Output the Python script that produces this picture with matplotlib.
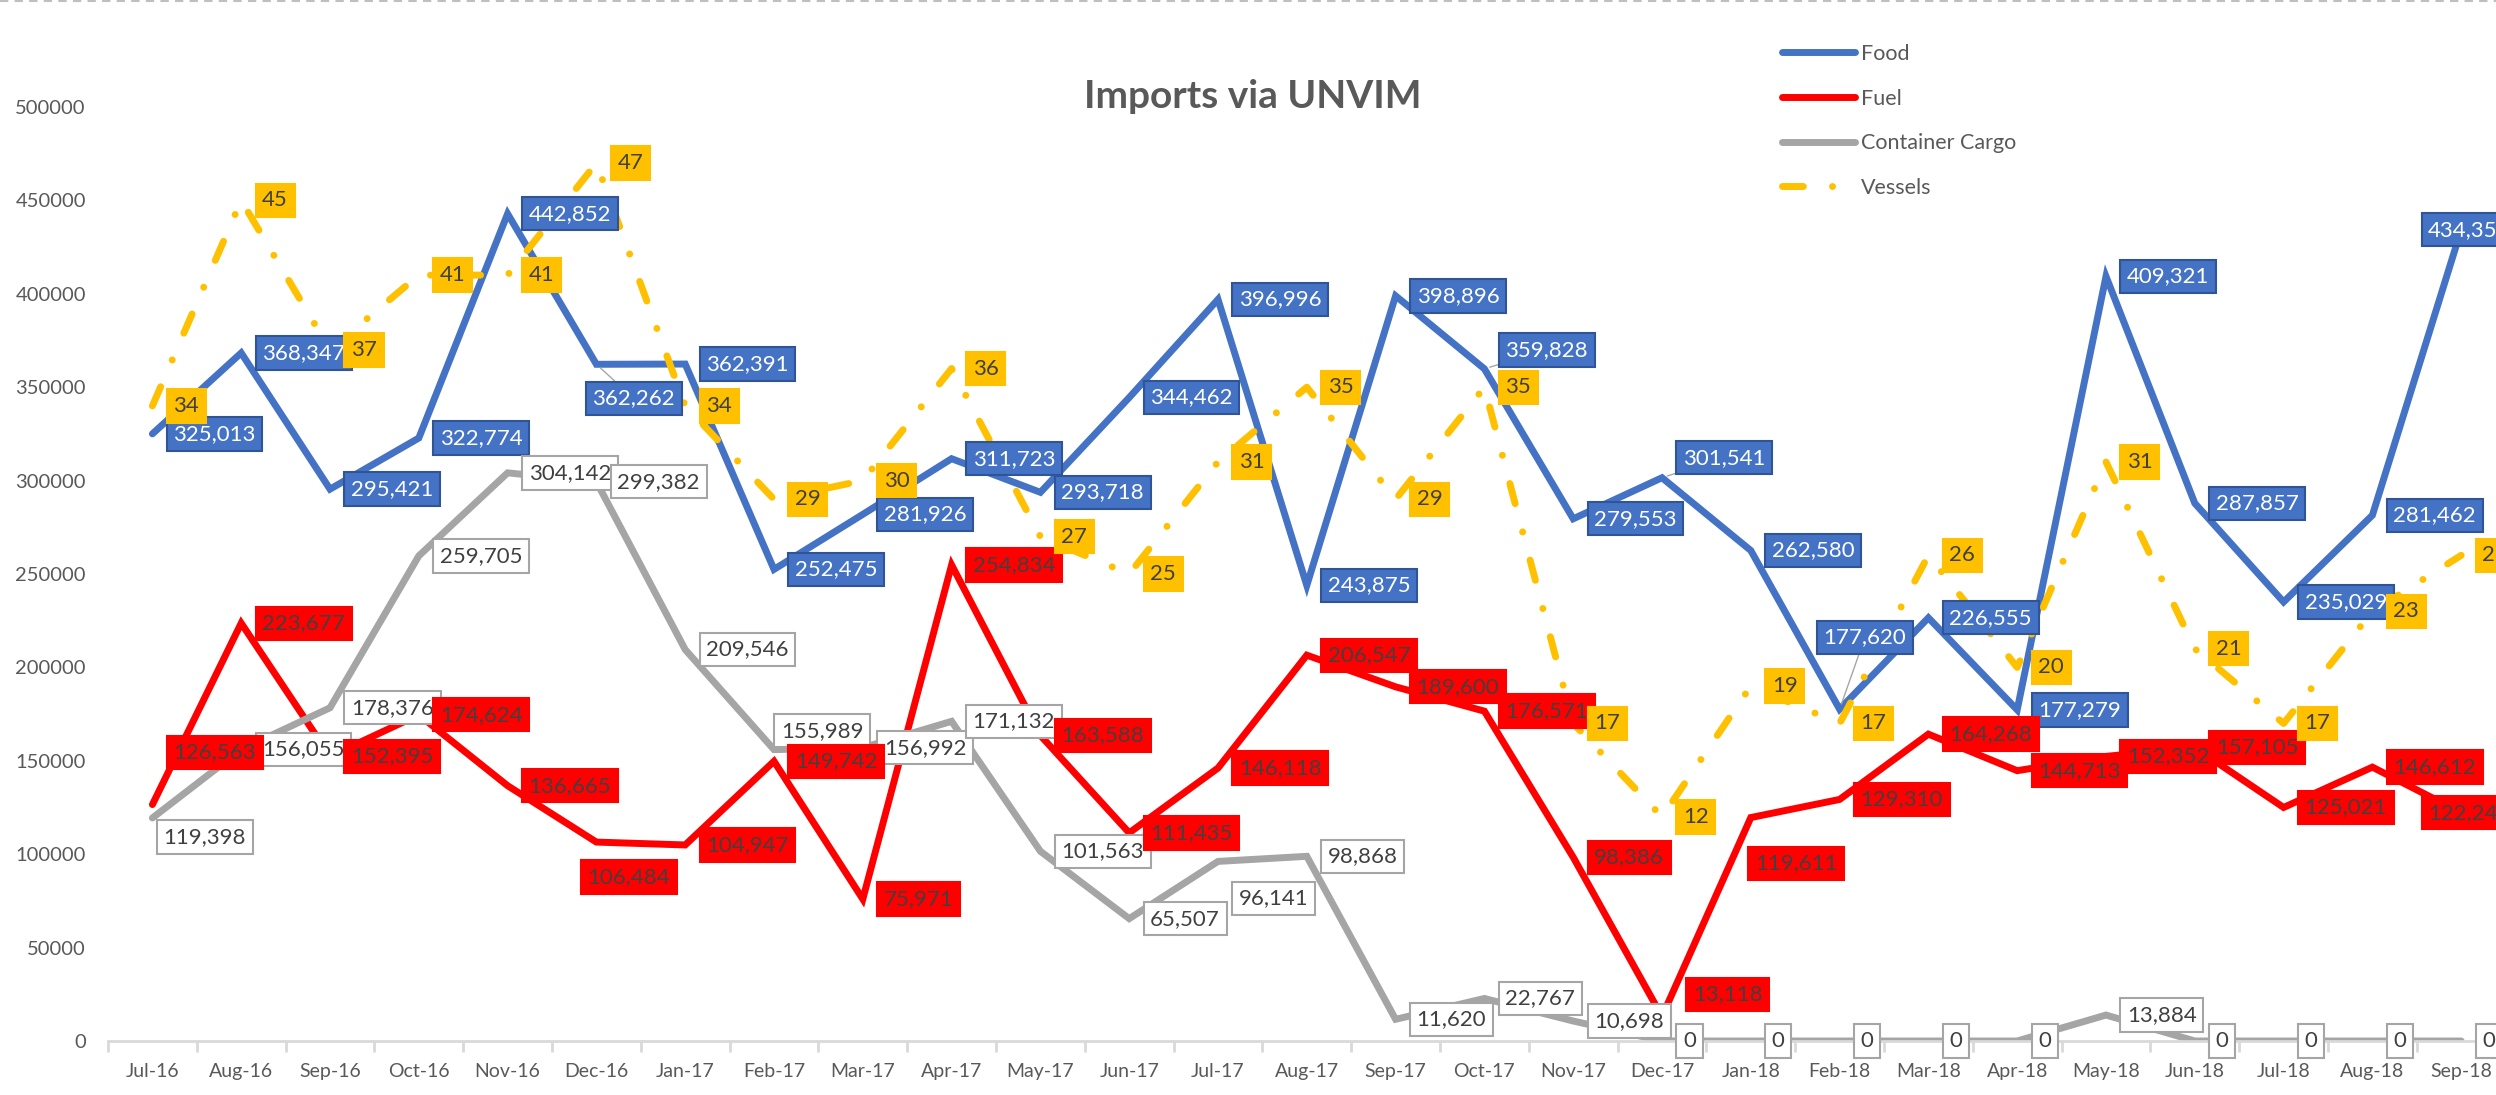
import matplotlib.pyplot as plt
from matplotlib.lines import Line2D
import numpy as np

plt.rcParams['font.family'] = ['Lato', 'DejaVu Sans']

# データ
months = ['Jul-16', 'Aug-16', 'Sep-16', 'Oct-16', 'Nov-16', 'Dec-16', 'Jan-17',
          'Feb-17', 'Mar-17', 'Apr-17', 'May-17', 'Jun-17', 'Jul-17', 'Aug-17',
          'Sep-17', 'Oct-17', 'Nov-17', 'Dec-17', 'Jan-18', 'Feb-18', 'Mar-18',
          'Apr-18', 'May-18', 'Jun-18', 'Jul-18', 'Aug-18', 'Sep-18']
food = [325013, 368347, 295421, 322774, 442852, 362262, 362391, 252475, 281926,
        311723, 293718, 344462, 396996, 243875, 398896, 359828, 279553, 301541,
        262580, 177620, 226555, 177279, 409321, 287857, 235029, 281462, 434351]
fuel = [126563, 223677, 152395, 174624, 136665, 106484, 104947, 149742, 75971,
        254834, 163588, 111435, 146118, 206547, 189600, 176571, 98386, 13118,
        119611, 129310, 164268, 144713, 152352, 157105, 125021, 146612, 122244]
cargo = [119398, 156055, 178376, 259705, 304142, 299382, 209546, 155989, 156992,
         171132, 101563, 65507, 96141, 98868, 11620, 22767, 10698, 0,
         0, 0, 0, 0, 13884, 0, 0, 0, 0]
vessels = [34, 45, 37, 41, 41, 47, 34, 29, 30, 36, 27, 25, 31, 35, 29, 35, 17, 12,
           19, 17, 26, 20, 31, 21, 17, 23, 26]

# ラベルの手動移動 (px)
food_off = {5: (-25, 34), 15: (0, -19), 17: (0, -20), 19: (-37, -72), 26: (-54, 0)}
fuel_off = {0: (0, -52), 5: (-30, 35), 17: (10, -22), 18: (-17, 46), 26: (-54, 0)}
cargo_off = {0: (-10, 19), 7: (-14, -19), 12: (0, 37)}

W, H = 2496, 1095
fig = plt.figure(figsize=(W / 100, H / 100), dpi=100)
ax = fig.add_axes([108 / W, 1 - 1041 / H, 27 * 88.8 / W, (1041 - 107) / H])
ax2 = ax.twinx()

x = np.arange(len(months))
lw = 5
kw = dict(lw=lw, solid_capstyle='round', solid_joinstyle='miter')
ax.plot(x, food, color='#4472C4', label='Food', **kw)
ax.plot(x, fuel, color='#FF0000', label='Fuel', **kw)
ax.plot(x, cargo, color='#A5A5A5', label='Container Cargo', **kw)
ax2.plot(x, vessels, color='#FFC000', lw=lw, dashes=(3, 4.2, 0.01, 4.2),
         dash_capstyle='round', label='Vessels')

ax.set_xlim(-0.5, 26.5)
ax.set_ylim(0, 500000)
ax2.set_ylim(0, 50)
ax2.axis('off')

for s in ['top', 'right', 'left']:
    ax.spines[s].set_visible(False)
ax.spines['bottom'].set_color('#D9D9D9')
ax.spines['bottom'].set_linewidth(2)

ax.set_xticks(x, months)
ax.set_xticks(np.arange(-0.5, 27), minor=True)
ax.tick_params(axis='x', which='major', length=0, pad=16, labelsize=14, labelcolor='#595959')
ax.tick_params(axis='x', which='minor', length=8, width=2, color='#D9D9D9')
yt = list(range(0, 500001, 50000))
ax.set_yticks(yt, [str(v) for v in yt])
ax.tick_params(axis='y', length=0, pad=16, labelsize=14.5, labelcolor='#595959')

# データラベル
series = [
    (food, ax.transData, '#4472C4', 'white', '#2F5597', food_off, 5),
    (cargo, ax.transData, 'white', '#404040', '#A5A5A5', cargo_off, 6),
    (fuel, ax.transData, '#FF0000', '#404040', '#FF0000', fuel_off, 7),
    (vessels, ax2.transData, '#FFC000', '#404040', '#FFC000', {}, 8),
]
for vals, tr, fc, tc, ec, offs, z in series:
    for i, v in enumerate(vals):
        dx, dy = offs.get(i, (0, 0))
        arrow = None
        if offs is food_off and i in offs:
            arrow = dict(arrowstyle='-', color='#A6A6A6', lw=1, shrinkA=0, shrinkB=4)
        ax2.annotate(f'{v:,}', xy=(i, v), xycoords=tr, xytext=(21 + dx, -dy),
                     textcoords='offset pixels', ha='left', va='center',
                     fontsize=16, color=tc, zorder=z, annotation_clip=False,
                     bbox=dict(boxstyle='square,pad=0.3', fc=fc, ec=ec, lw=1.5),
                     arrowprops=arrow)

fig.text(1253 / W, 1 - 96 / H, 'Imports via UNVIM', ha='center', va='center',
         fontsize=28, fontweight='bold', color='#595959')

handles = [Line2D([], [], color='#4472C4', lw=lw, solid_capstyle='round'),
           Line2D([], [], color='#FF0000', lw=lw, solid_capstyle='round'),
           Line2D([], [], color='#A5A5A5', lw=lw, solid_capstyle='round'),
           Line2D([], [], color='#FFC000', lw=lw, dashes=(3, 4.2, 0.01, 4.2),
                  dash_capstyle='round')]
leg = fig.legend(handles, ['Food', 'Fuel', 'Container Cargo', 'Vessels'],
                 loc='upper left', bbox_to_anchor=(1782 / W, 1 - 44 / H),
                 frameon=False, fontsize=15.5, handlelength=3.4, handletextpad=0.25,
                 labelspacing=1.14, borderpad=0, borderaxespad=0)
for t in leg.get_texts():
    t.set_color('#595959')

fig.add_artist(Line2D([0, 1], [0.999, 0.999], transform=fig.transFigure,
                      color='#BFBFBF', lw=1.5, dashes=(4, 3)))

fig.savefig('out.png', dpi=100)
